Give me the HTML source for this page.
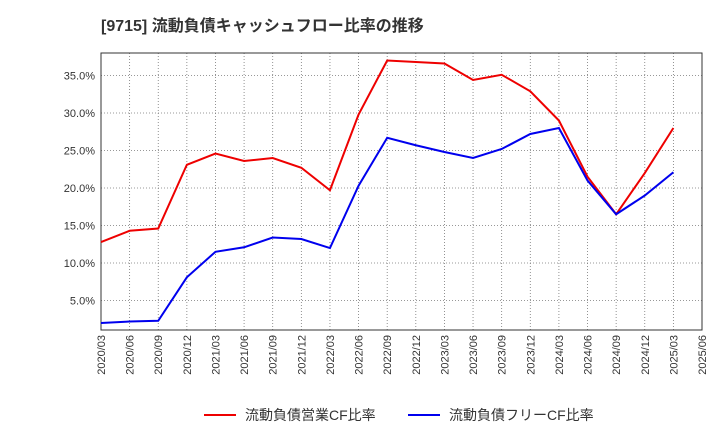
<!DOCTYPE html>
<html><head><meta charset="utf-8"><style>
body{margin:0;background:#fff;font-family:"Liberation Sans","Noto Sans CJK JP",sans-serif;}
</style></head><body>
<svg id="c" width="720" height="440" xmlns="http://www.w3.org/2000/svg">
<text x="101" y="31" font-size="16" font-weight="bold" fill="#333" font-family="Liberation Sans,Noto Sans CJK JP,sans-serif">[9715]  流動負債キャッシュフロー比率の推移</text>
<g id="grid"></g><g id="axes"></g><g id="series"></g>
<g>
<line x1="204" y1="415" x2="236" y2="415" stroke="#e00" stroke-width="2"/>
<text x="245" y="420" font-size="14" fill="#333">流動負債営業CF比率</text>
<line x1="408" y1="415" x2="440" y2="415" stroke="#00e" stroke-width="2"/>
<text x="449" y="420" font-size="14" fill="#333">流動負債フリーCF比率</text>
</g>
</svg>
<script>
const categories=["2020/03","2020/06","2020/09","2020/12","2021/03","2021/06","2021/09","2021/12","2022/03","2022/06","2022/09","2022/12","2023/03","2023/06","2023/09","2023/12","2024/03","2024/06","2024/09","2024/12","2025/03","2025/06"];
const opCF=[12.8,14.3,14.6,23.1,24.6,23.6,24.0,22.7,19.7,29.8,37.0,36.8,36.6,34.4,35.1,32.9,29.0,21.5,16.5,22.0,28.0];
const freeCF=[2.0,2.2,2.3,8.1,11.5,12.1,13.4,13.2,12.0,20.3,26.7,25.7,24.8,24.0,25.2,27.2,28.0,21.0,16.5,19.0,22.1];
const yTicks=[5,10,15,20,25,30,35];
const L=101,R=702,T=53,B=330,yMin=1.07,yMax=38;
const NS="http://www.w3.org/2000/svg";
const x=i=>L+i*(R-L)/(categories.length-1);
const y=v=>B-(v-yMin)*(B-T)/(yMax-yMin);
function mk(t,a,p){const e=document.createElementNS(NS,t);for(const k in a)e.setAttribute(k,a[k]);p.appendChild(e);return e;}
const g=document.getElementById('grid'),ax=document.getElementById('axes'),s=document.getElementById('series');
categories.forEach((c,i)=>{
 const ln=mk('line',{x1:x(i),x2:x(i),y1:T,y2:B,stroke:'#777','stroke-dasharray':'1,2','stroke-width':0.8},g);
 
 
 const t=mk('text',{x:x(i)+4,y:B+5,'font-size':11,fill:'#333','text-anchor':'end',transform:`rotate(-90 ${x(i)+4} ${B+5})`},ax);
 t.textContent=c;
 
 
});
yTicks.forEach(v=>{
 const ln=mk('line',{x1:L,x2:R,y1:y(v),y2:y(v),stroke:'#777','stroke-dasharray':'1,2','stroke-width':0.8},g);
 
 
 const t=mk('text',{x:L-6,y:y(v)+4,'font-size':11,fill:'#333','text-anchor':'end'},ax);
 t.textContent=v.toFixed(1)+'%';
 
 
});
const fr=mk('rect',{x:L,y:T,width:R-L,height:B-T,fill:'none',stroke:'#333','stroke-width':1},ax);


const p1=mk('polyline',{points:opCF.map((v,i)=>x(i)+','+y(v)).join(' '),fill:'none',stroke:'#e00','stroke-width':2},s);


const p2=mk('polyline',{points:freeCF.map((v,i)=>x(i)+','+y(v)).join(' '),fill:'none',stroke:'#00e','stroke-width':2},s);


</script>
</body></html>
